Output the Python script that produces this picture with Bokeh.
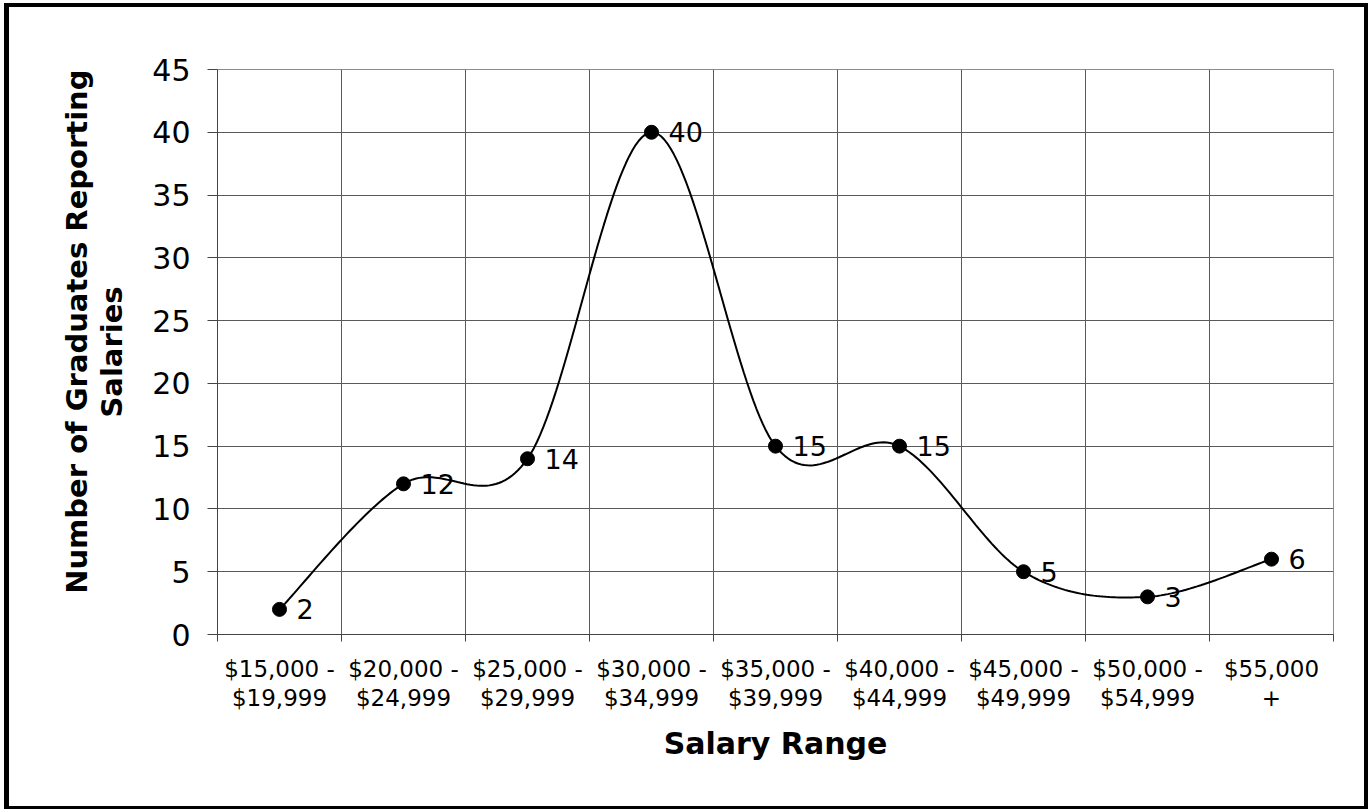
import numpy as np
from bokeh.plotting import figure
from bokeh.models import Range1d, FixedTicker, Title, ColumnDataSource
from bokeh.embed import file_html
from bokeh.resources import INLINE
from bokeh.core.properties import value

# ---- data ----
categories = [
    "$15,000 -\n$19,999",
    "$20,000 -\n$24,999",
    "$25,000 -\n$29,999",
    "$30,000 -\n$34,999",
    "$35,000 -\n$39,999",
    "$40,000 -\n$44,999",
    "$45,000 -\n$49,999",
    "$50,000 -\n$54,999",
    "$55,000\n+",
]
counts = [2, 12, 14, 40, 15, 15, 5, 3, 6]
y_ticks = [0, 5, 10, 15, 20, 25, 30, 35, 40, 45]
x_title = "Salary Range"
y_title_line1 = "Number of Graduates Reporting"
y_title_line2 = "Salaries"

FONT = "DejaVu Sans"

x_pos = [i + 0.5 for i in range(len(categories))]
boundaries = list(range(len(categories) + 1))


def excel_smooth(xs, ys, n=40):
    pts = list(zip(xs, ys))
    N = len(pts)
    ox, oy = [], []
    for i in range(N - 1):
        p0 = pts[i - 1] if i > 0 else pts[i]
        p1 = pts[i]
        p2 = pts[i + 1]
        p3 = pts[i + 2] if i + 2 < N else pts[i + 1]
        c1 = (p1[0] + (p2[0] - p0[0]) / 6.0, p1[1] + (p2[1] - p0[1]) / 6.0)
        c2 = (p2[0] - (p3[0] - p1[0]) / 6.0, p2[1] - (p3[1] - p1[1]) / 6.0)
        t = np.linspace(0, 1, n)
        if i > 0:
            t = t[1:]
        a = (1 - t) ** 3
        b = 3 * (1 - t) ** 2 * t
        c = 3 * (1 - t) * t ** 2
        d = t ** 3
        ox.extend(a * p1[0] + b * c1[0] + c * c2[0] + d * p2[0])
        oy.extend(a * p1[1] + b * c1[1] + c * c2[1] + d * p2[1])
    return ox, oy


sx, sy = excel_smooth(x_pos, counts)

p = figure(
    frame_width=1116, frame_height=565,
    min_border_left=217, min_border_right=35,
    min_border_top=69, min_border_bottom=175,
    x_range=Range1d(0, len(categories)), y_range=Range1d(0, 45),
    output_backend="svg", toolbar_location=None,
    background_fill_color="white", border_fill_color=None,
)
p.styles = {"box-shadow": "inset 4px 3px 0 0 #fff, inset 9px 7px 0 0 #000, "
                          "inset -4px -3px 0 0 #000"}

p.outline_line_color = "#8c8c8c"
p.outline_line_width = 1

# y axis
p.yaxis.ticker = FixedTicker(ticks=y_ticks)
p.yaxis.major_tick_out = 10
p.yaxis.major_tick_in = 0
p.yaxis.minor_tick_line_color = None
p.yaxis.major_label_standoff = 17
p.yaxis.major_label_text_font = FONT
p.yaxis.major_label_text_font_size = "30px"
p.yaxis.major_label_text_color = "black"
p.yaxis.axis_line_color = "#444444"
p.yaxis.major_tick_line_color = "#444444"
p.yaxis.axis_label = y_title_line2
p.yaxis.axis_label_standoff = 20
p.yaxis.axis_label_text_font = FONT
p.yaxis.axis_label_text_font_size = "29px"
p.yaxis.axis_label_text_font_style = "bold"
p.yaxis.axis_label_text_color = "black"

# x axis
p.xaxis.ticker = FixedTicker(ticks=x_pos, minor_ticks=boundaries)
p.xaxis.major_label_overrides = {xp: lab for xp, lab in zip(x_pos, categories)}
p.xaxis.major_tick_line_color = None
p.xaxis.major_tick_out = 0
p.xaxis.major_tick_in = 0
p.xaxis.minor_tick_out = 7
p.xaxis.minor_tick_in = 0
p.xaxis.minor_tick_line_color = "#444444"
p.xaxis.axis_line_color = "#444444"
p.xaxis.major_label_standoff = 14
p.xaxis.major_label_text_font = FONT
p.xaxis.major_label_text_font_size = "23px"
p.xaxis.major_label_text_line_height = 1.12
p.xaxis.major_label_text_color = "black"
p.xaxis.axis_label = x_title
p.xaxis.axis_label_standoff = 12
p.xaxis.axis_label_text_font = FONT
p.xaxis.axis_label_text_font_size = "30px"
p.xaxis.axis_label_text_font_style = "bold"
p.xaxis.axis_label_text_color = "black"

# grids
p.ygrid.ticker = FixedTicker(ticks=y_ticks)
p.ygrid.grid_line_color = "#5a5a5a"
p.ygrid.grid_line_width = 1
p.xgrid.grid_line_color = None
p.xgrid.minor_grid_line_color = "#5a5a5a"
p.xgrid.minor_grid_line_width = 1

src = ColumnDataSource(dict(x=x_pos, y=counts, lab=[str(c) for c in counts]))
p.line(sx, sy, line_color="black", line_width=2)
p.scatter("x", "y", source=src, size=14, marker="circle",
          fill_color="black", line_color="black")
p.text("x", "y", text="lab", source=src, x_offset=17,
       text_baseline="middle", text_align="left",
       text_font=value(FONT), text_font_size="27px", text_color="black")

# first line of the y axis title
p.add_layout(Title(text=y_title_line1, align="right", vertical_align="middle",
                   standoff=-5, text_font=FONT,
                   text_font_size="29px", text_font_style="bold",
                   text_color="black"), "left")

open("out.html", "w").write(file_html(p, INLINE))
